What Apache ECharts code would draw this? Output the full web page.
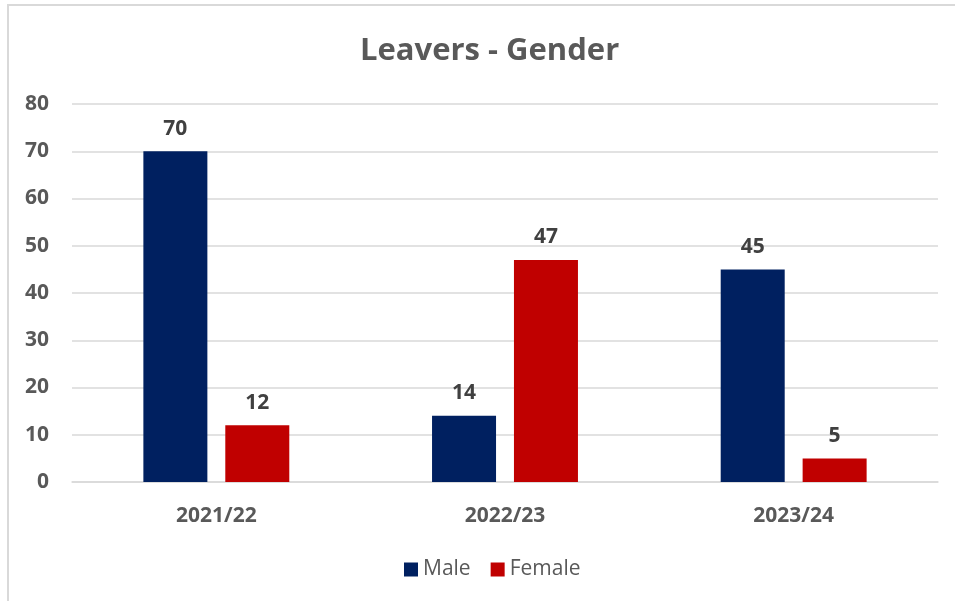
<!DOCTYPE html>
<html><head><meta charset="utf-8">
<script src="https://cdn.jsdelivr.net/npm/echarts@6/dist/echarts.min.js"></script>
<style>html,body{margin:0;padding:0;background:#fff}#c{width:955px;height:601px}</style>
</head><body><div id="c"></div>
<script>
const categories = ['2021/22', '2022/23', '2023/24'];
const male = [70, 14, 45];
const female = [12, 47, 5];
const yTicks = [0, 10, 20, 30, 40, 50, 60, 70, 80];

const chart = echarts.init(document.getElementById('c'));
const font = '"Open Sans", "Noto Sans", sans-serif';
chart.setOption({
  backgroundColor: '#fff',
  animation: false,
  graphic: [{
    type: 'rect', shape: {x: 8, y: 5, width: 960, height: 620},
    style: {fill: 'none', stroke: '#d9d9d9', lineWidth: 2}
  }],
  title: {
    text: 'Leavers - Gender', left: 355, top: 31,
    textStyle: {fontFamily: font, fontSize: 31, fontWeight: 'bold', color: '#595959'}
  },
  legend: {
    bottom: 16, left: 399, itemWidth: 14, itemHeight: 14, itemGap: 20,
    icon: 'rect',
    textStyle: {fontFamily: font, fontSize: 21, color: '#595959'},
    data: ['Male', 'Female']
  },
  grid: {left: 72, right: 17, top: 104, bottom: 119, containLabel: false},
  xAxis: {
    type: 'category', data: categories,
    axisLine: {lineStyle: {color: '#d9d9d9', width: 1.5}},
    axisTick: {show: false},
    axisLabel: {fontFamily: font, fontSize: 21, fontWeight: 'bold', color: '#595959', margin: 24}
  },
  yAxis: {
    type: 'value', min: 0, max: 80, interval: 10,
    axisLine: {show: false}, axisTick: {show: false},
    splitLine: {lineStyle: {color: '#d9d9d9', width: 1.5}},
    axisLabel: {fontFamily: font, fontSize: 21, fontWeight: 'bold', color: '#595959', margin: 23,
      formatter: v => yTicks.includes(v) ? String(v) : ''}
  },
  series: [
    {name: 'Male', type: 'bar', data: male, barWidth: 64, barGap: '28%',
     itemStyle: {color: '#002060'},
     label: {show: true, position: 'top', distance: 12, fontFamily: font, fontSize: 21, fontWeight: 'bold', color: '#404040'}},
    {name: 'Female', type: 'bar', data: female, barWidth: 64,
     itemStyle: {color: '#c00000'},
     label: {show: true, position: 'top', distance: 12, fontFamily: font, fontSize: 21, fontWeight: 'bold', color: '#404040'}}
  ]
});
</script></body></html>
